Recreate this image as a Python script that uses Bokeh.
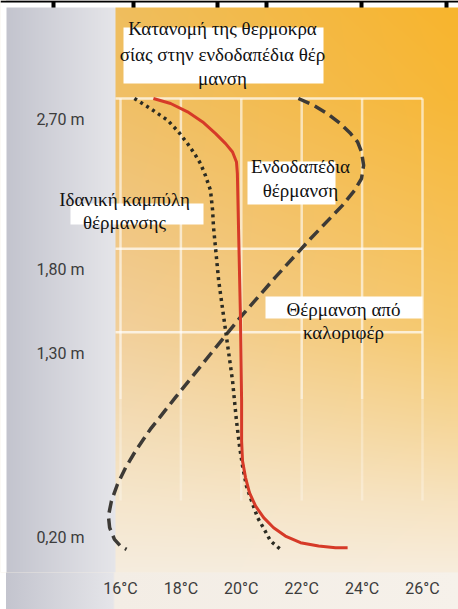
import numpy as np
from bokeh.plotting import figure
from bokeh.models import Range1d, FixedTicker
from bokeh.core.properties import value
from bokeh.embed import file_html
from bokeh.resources import INLINE

# ---------------- data ----------------
temp_ticks = [16, 18, 20, 22, 24, 26]
temp_labels = ["16°C", "18°C", "20°C", "22°C", "24°C", "26°C"]
height_ticks = [2.70, 1.80, 1.30, 0.20]
height_labels = ["2,70 m", "1,80 m", "1,30 m", "0,20 m"]

# floor heating (red solid)
floor_T = [17.09, 17.66, 18.22, 18.72, 19.15, 19.48, 19.71, 19.84, 19.87, 19.91, 19.97,
           20.01, 20.01, 20.04, 20.14, 20.27, 20.47, 20.74, 21.07, 21.46, 21.96, 22.56,
           23.12, 23.52]
floor_h = [2.70, 2.67, 2.62, 2.56, 2.49, 2.43, 2.38, 2.32, 2.25, 1.91, 1.41,
           0.89, 0.65, 0.53, 0.43, 0.34, 0.26, 0.19, 0.13, 0.08, 0.04, 0.02,
           0.01, 0.01]

# ideal heating curve (dotted)
ideal_T = [16.46, 16.99, 17.56, 17.92, 18.22, 18.45, 18.65, 18.81, 18.98, 19.05, 19.08,
           19.25, 19.48, 19.71, 19.84, 19.94, 20.04, 20.17, 20.34, 20.54, 20.73, 20.97, 21.30]
ideal_h = [2.70, 2.64, 2.57, 2.50, 2.43, 2.37, 2.31, 2.24, 2.15, 2.03, 1.93,
           1.61, 1.31, 1.01, 0.77, 0.62, 0.50, 0.38, 0.29, 0.19, 0.13, 0.05, 0.00]

# radiator heating (dashed)
radiator_T = [21.89, 22.39, 22.85, 23.28, 23.62, 23.85, 23.98, 24.05, 23.98, 23.75, 23.35,
              22.29, 21.13, 19.97, 18.98, 17.82, 16.99, 16.50, 16.17, 15.90, 15.70, 15.60,
              15.64, 15.80, 16.00, 16.20]
radiator_h = [2.70, 2.66, 2.61, 2.55, 2.49, 2.44, 2.38, 2.30, 2.22, 2.15, 2.06,
              1.86, 1.63, 1.39, 1.17, 0.91, 0.72, 0.59, 0.49, 0.39, 0.29, 0.20,
              0.13, 0.06, 0.02, 0.00]

# ---------------- layout helpers (page pixels -> data) ----------------
PX_PER_DEG = 30.2
PX_PER_M = 167.0
X16 = 120.0   # page x of 16 °C
Y270 = 98.0   # page y of 2.70 m


def tx(px):
    return 16 + (px - X16) / PX_PER_DEG


def hy(py):
    return 2.70 - (py - Y270) / PX_PER_M


FIG_W, FIG_H = 458, 609
FRAME_L, FRAME_R, FRAME_T, FRAME_B = 0, 458, 0, 572
x0, x1 = tx(FRAME_L), tx(FRAME_R)
y0, y1 = hy(FRAME_B), hy(FRAME_T)

SANS = "Roboto"
SERIF = "Liberation Serif"

p = figure(width=FIG_W, height=FIG_H, output_backend="svg", toolbar_location=None,
           x_range=Range1d(x0, x1), y_range=Range1d(y0, y1),
           y_axis_location=None, min_border_left=0, min_border_right=0,
           min_border_top=0, min_border_bottom=FIG_H - FRAME_B)
p.border_fill_color = None
p.background_fill_color = "#f5efe6"
p.outline_line_color = None
p.grid.visible = False
p.styles = {"background": "linear-gradient(to right, #ffffff 0px, #ffffff 6px, #c3c4ce 6px, "
                          "#e5e5e9 113px, #f3ede5 115px, #f6f1ea 100%)"}

# ---------------- background gradient in frame ----------------
W, H = FRAME_R - FRAME_L, FRAME_B - FRAME_T
px = np.arange(W) + FRAME_L + 0.5
py = np.arange(H) + FRAME_T + 0.5


def hexrgb(h):
    h = h.lstrip("#")
    return [int(h[i:i + 2], 16) for i in (0, 2, 4)]


stop_y = [8, 100, 250, 330, 420, 500, 600]
left_c = [hexrgb(c) for c in ["#efbe5e", "#f0c068", "#f1c98a", "#f2d09c", "#f3dcb6", "#f5e6cc", "#f5efe6"]]
right_c = [hexrgb(c) for c in ["#f8b52e", "#f7b838", "#f6c25a", "#f6c96e", "#f6d698", "#f7e3c0", "#f8f1e8"]]
L = np.stack([np.interp(py, stop_y, [c[k] for c in left_c]) for k in range(3)], axis=1)
R = np.stack([np.interp(py, stop_y, [c[k] for c in right_c]) for k in range(3)], axis=1)
t = np.clip((px - 115) / (450 - 115), 0, 1)
img = L[:, None, :] + (R - L)[:, None, :] * t[None, :, None]
g0, g1 = np.array(hexrgb("#c3c4ce")), np.array(hexrgb("#e5e5e9"))
gt = np.clip((px - 6) / (113 - 6), 0, 1)
gray = g0[None, :] + (g1 - g0)[None, :] * gt[:, None]
mask = px < 115
img[:, mask, :] = gray[mask][None, :, :]
img[:, px < 6, :] = 255
# top strip of the source picture: white with a thin black edge and black stubs
img[py < 7, :, :] = 255
img[py < 2, :, :] = 0
for sx in (53, 133, 217, 266, 361, 446):
    img[np.ix_(py < 7, np.abs(px - sx) < 2.5)] = 0
rgba = np.zeros((H, W, 4), dtype=np.uint8)
rgba[..., :3] = np.clip(img, 0, 255).astype(np.uint8)
rgba[..., 3] = 255
rgba = rgba[::-1].copy()
p.image_rgba(image=[rgba.view(np.uint32).reshape(H, W)], x=x0, y=y0, dw=x1 - x0, dh=y1 - y0)

# ---------------- grid ----------------
n = len(temp_ticks)
fade_h = 0.9
p.segment(x0=temp_ticks, x1=temp_ticks, y0=[height_ticks[0]] * n, y1=[fade_h] * n,
          line_color="white", line_alpha=0.6, line_width=2.5)
p.segment(x0=temp_ticks, x1=temp_ticks, y0=[fade_h] * n, y1=[hy(500)] * n,
          line_color="white", line_alpha=0.3, line_width=2.5)
grid_h = height_ticks[:3]
p.segment(x0=[tx(115)] * len(grid_h), x1=[temp_ticks[-1]] * len(grid_h),
          y0=grid_h, y1=grid_h, line_color="white", line_alpha=0.7, line_width=2.5)

# ---------------- curves ----------------
p.line(radiator_T, radiator_h, line_color="#3d3a36", line_width=3.5, line_dash="12 6")
p.line(ideal_T, ideal_h, line_color="#2b2b22", line_width=3.5, line_dash="3 4")
p.line(floor_T, floor_h, line_color="#d63a28", line_width=3)

# ---------------- axes / tick labels ----------------
xa = p.xaxis[0]
xa.ticker = FixedTicker(ticks=temp_ticks)
xa.major_label_overrides = dict(zip(temp_ticks, temp_labels))
xa.axis_line_color = None
xa.major_tick_line_color = None
xa.minor_tick_line_color = None
xa.major_label_text_font = SANS
xa.major_label_text_font_size = "16px"
xa.major_label_text_color = "#3c3c3c"
xa.major_label_standoff = 0

p.text(x=[tx(84)] * len(height_ticks), y=height_ticks, text=height_labels,
       text_align="right", text_baseline="middle", y_offset=21,
       text_font=value(SANS), text_font_size=value("16px"), text_color="#3c3c3c")

# ---------------- text boxes ----------------
boxes = [(123, 323, 27, 83), (247, 335, 161, 204), (70, 203, 203, 224), (265, 422, 296, 318)]
p.quad(left=[tx(b[0]) for b in boxes], right=[tx(b[1]) for b in boxes],
       top=[hy(b[2]) for b in boxes], bottom=[hy(b[3]) for b in boxes],
       fill_color="white", line_color=None)

texts = [("Κατανομή της θερμοκρα", 222, 28), ("σίας στην ενδοδαπέδια θέρ", 222, 54),
         ("μανση", 222, 78), ("Ενδοδαπέδια", 300, 166), ("θέρμανση", 300, 190),
         ("Ιδανική καμπύλη", 124, 199), ("θέρμανσης", 124, 222),
         ("Θέρμανση από", 343, 309), ("καλοριφέρ", 343, 332)]
p.text(x=[tx(c[1]) for c in texts], y=[hy(c[2]) for c in texts], text=[c[0] for c in texts],
       text_align="center", text_baseline="alphabetic", text_font=value(SERIF),
       text_font_size=value("19px"), text_color="#111111")

open("out.html", "w").write(file_html(p, INLINE))
